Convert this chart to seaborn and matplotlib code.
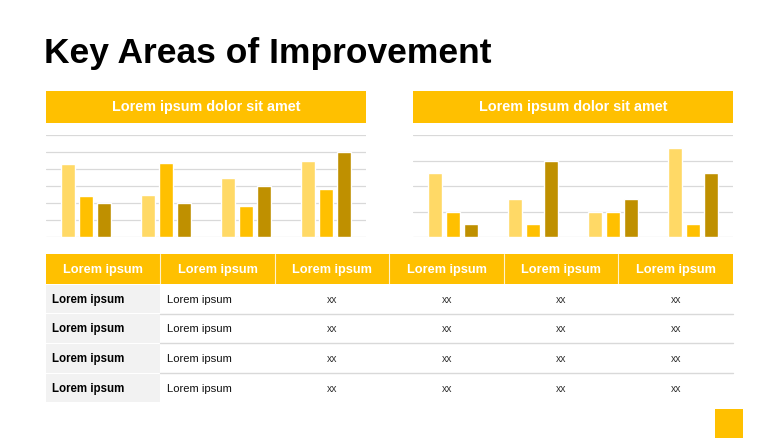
import numpy as np
import pandas as pd
import seaborn as sns
import matplotlib.pyplot as plt
from matplotlib.patches import Rectangle

# chart data
groups = ["G1", "G2", "G3", "G4"]
series = ["S1", "S2", "S3"]
left_vals = [[4.3, 2.5, 3.45, 4.45],
             [2.4, 4.35, 1.8, 2.8],
             [2.0, 2.0, 3.0, 5.0]]
right_vals = [[2.5, 1.5, 1.0, 3.5],
              [1.0, 0.5, 1.0, 0.5],
              [0.5, 3.0, 1.5, 2.5]]
chart_titles = ["Lorem ipsum dolor sit amet", "Lorem ipsum dolor sit amet"]

# table text
col_headers = ["Lorem ipsum"] * 6
row_labels = ["Lorem ipsum"] * 4
row_sub = ["Lorem ipsum"] * 4
cell_text = [["xx"] * 4 for _ in range(4)]

GOLD = "#FFC000"
LIGHT = "#FFD966"
DARK = "#BF9000"
GRID = "#D9D9D9"

sns.set_theme(style="white")
plt.rcParams["font.family"] = ["Liberation Sans", "DejaVu Sans"]

W, H = 779, 438
fig = plt.figure(figsize=(W / 100, H / 100), dpi=100)
fig.patch.set_facecolor("white")

# full-figure canvas in pixel units for header boxes and table
bg = fig.add_axes([0, 0, 1, 1])
bg.set_xlim(0, W)
bg.set_ylim(H, 0)
bg.axis("off")

bg.text(44, 62.5, "Key Areas of Improvement", fontsize=25.5, fontweight="bold",
        color="black", ha="left", va="baseline")

# chart header boxes
for x0, t in zip([46, 413], chart_titles):
    bg.add_patch(Rectangle((x0, 90.5), 320, 32, color=GOLD, lw=0))
    bg.text(x0 + 160, 107, t, fontsize=10.4, fontweight="bold", color="white",
            ha="center", va="center")

# table
col_x = 46 + 114.5 * np.arange(7)
hdr_top, hdr_bot = 254, 284
row_h = 29.7
bg.add_patch(Rectangle((46, hdr_top), 687, hdr_bot - hdr_top, color=GOLD, lw=0))
for cx in col_x[1:-1]:
    bg.plot([cx, cx], [hdr_top, hdr_bot], color="white", lw=0.8, alpha=0.8)
for i, h in enumerate(col_headers):
    bg.text((col_x[i] + col_x[i + 1]) / 2, (hdr_top + hdr_bot) / 2 + 1, h,
            fontsize=9.2, fontweight="bold", color="white", ha="center", va="center")

for r in range(4):
    y0 = hdr_bot + r * row_h
    yc = y0 + row_h / 2 + 0.8
    bg.add_patch(Rectangle((46, y0 + 0.5), col_x[1] - 46, row_h - 1, color="#F2F2F2", lw=0))
    if r > 0:
        bg.plot([col_x[1], col_x[-1]], [y0, y0], color=GRID, lw=1)
    bg.text(52.5, yc, row_labels[r], fontsize=8.3, fontweight="bold", color="black",
            ha="left", va="center")
    bg.text(col_x[1] + 6.5, yc, row_sub[r], fontsize=8.1, color="#111111",
            ha="left", va="center")
    for c in range(4):
        bg.text((col_x[c + 2] + col_x[c + 3]) / 2, yc, cell_text[r][c], fontsize=7.5,
                color="#333333", ha="center", va="center")

# bottom-right accent square
bg.add_patch(Rectangle((715, 409), 28, 29, color=GOLD, lw=0))


def bar_chart(x0, vals, ymax):
    ax = fig.add_axes([x0 / W, (H - 237) / H, 320 / W, 102 / H])
    ax.set_facecolor("none")
    df = pd.DataFrame({
        "group": np.tile(groups, len(series)),
        "series": np.repeat(series, len(groups)),
        "value": np.ravel(vals),
    })
    for y in range(ymax + 1):
        ax.axhline(y, color=GRID, lw=0.9, zorder=0)
    sns.barplot(data=df, x="group", y="value", hue="series",
                palette=[LIGHT, GOLD, DARK], saturation=1, width=0.68, gap=0.24,
                legend=False, ax=ax, zorder=2)
    ax.set_ylim(0, ymax)
    ax.set_xlim(-0.5, len(groups) - 0.5)
    ax.set_xlabel("")
    ax.set_ylabel("")
    ax.set_xticks([])
    ax.set_yticks([])
    sns.despine(ax=ax, left=True, bottom=True)
    return ax


bar_chart(46, left_vals, 6)
bar_chart(413, right_vals, 4)

fig.savefig("out.png", dpi=100, facecolor="white")
